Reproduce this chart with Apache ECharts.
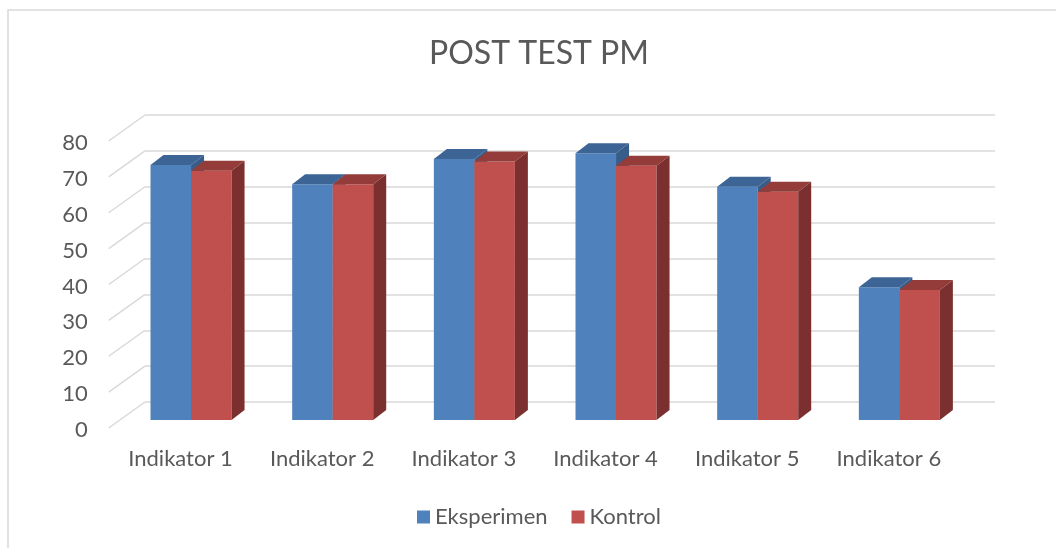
<!DOCTYPE html>
<html>
<head>
<meta charset="utf-8">
<title>POST TEST PM</title>
<script src="https://cdn.jsdelivr.net/npm/echarts@6/dist/echarts.min.js"></script>
<style>
html, body { margin: 0; padding: 0; background: #fff; }
#main { width: 1056px; height: 548px; }
</style>
</head>
<body>
<div id="main"></div>
<script>
var categories = ['Indikator 1', 'Indikator 2', 'Indikator 3', 'Indikator 4', 'Indikator 5', 'Indikator 6'];
var eksperimen = [71, 65.7, 72.7, 74.3, 65, 37];
var kontrol = [69.4, 65.7, 72, 70.8, 63.6, 36.2];
var yTicks = [0, 10, 20, 30, 40, 50, 60, 70, 80];

var textColor = '#595959';
var gridColor = '#D9D9D9';
var font = 'Lato';
var labelSize = 22;

// depth of the 3d bars
var DX = 13, DY = 10;

function bar3d(idx, front, top, side) {
  return function (params, api) {
    var p = api.coord([api.value(0), api.value(1)]);
    var base = api.coord([api.value(0), 0]);
    var band = api.size([1, 0])[0];
    var w = band * 0.286;
    var l = p[0] - w + idx * w;
    var y = p[1], b = base[1];
    return {
      type: 'group',
      children: [
        { type: 'rect', shape: { x: l, y: y, width: w, height: b - y }, style: { fill: front } },
        { type: 'polygon', shape: { points: [[l, y], [l + w, y], [l + w + DX, y - DY], [l + DX, y - DY]] }, style: { fill: top } },
        { type: 'polygon', shape: { points: [[l + w, y], [l + w + DX, y - DY], [l + w + DX, b - DY], [l + w, b]] }, style: { fill: side } }
      ]
    };
  };
}

var chart = echarts.init(document.getElementById('main'));
chart.setOption({
  animation: false,
  textStyle: { fontFamily: font },
  title: {
    text: 'POST TEST PM',
    left: 429,
    top: 38,
    padding: 0,
    textStyle: { color: textColor, fontSize: 32, fontWeight: 'normal', fontFamily: font }
  },
  legend: {
    left: 417,
    top: 506,
    icon: 'rect',
    itemWidth: 13,
    itemHeight: 13,
    itemGap: 24,
    padding: 0,
    textStyle: { color: textColor, fontSize: labelSize, fontFamily: font },
    data: [
      { name: 'Eksperimen', itemStyle: { color: '#4F81BD' } },
      { name: 'Kontrol', itemStyle: { color: '#C0504D' } }
    ]
  },
  graphic: [{
    type: 'rect',
    shape: { x: 8, y: 10, width: 1200, height: 700 },
    style: { fill: 'none', stroke: gridColor, lineWidth: 1.5 },
    silent: true
  }],
  grid: [
    // front plane of bars
    { left: 120.2, width: 850, top: 132.8, height: 287.2 },
    // back wall
    { left: 145, width: 850, top: 115, height: 287 },
    // label plane
    { left: 109.7, width: 850, top: 143, height: 287 }
  ],
  xAxis: [
    { gridIndex: 0, type: 'category', data: categories, show: false },
    { gridIndex: 1, type: 'category', data: categories, show: false },
    {
      gridIndex: 2, type: 'category', data: categories,
      axisLine: { show: false }, axisTick: { show: false },
      axisLabel: { color: textColor, fontSize: labelSize, margin: 18, fontFamily: font }
    }
  ],
  yAxis: [
    { gridIndex: 0, type: 'value', min: 0, max: 80, interval: 10, show: false },
    {
      gridIndex: 1, type: 'value', min: 0, max: 80, interval: 10,
      axisLine: { show: false }, axisTick: { show: false }, axisLabel: { show: false },
      splitLine: { lineStyle: { color: gridColor, width: 1.5 } }
    },
    {
      gridIndex: 2, type: 'value', min: 0, max: 80, interval: 10,
      axisLine: { show: false }, axisTick: { show: false }, splitLine: { show: false },
      axisLabel: { color: textColor, fontSize: labelSize, margin: 22, fontFamily: font }
    }
  ],
  series: [
    {
      // side wall lines
      type: 'custom',
      xAxisIndex: 1,
      yAxisIndex: 1,
      silent: true,
      data: yTicks.map(function (v) { return [0, v]; }),
      renderItem: function (params, api) {
        var y = api.coord([0, api.value(1)])[1];
        var x0 = params.coordSys.x;
        return {
          type: 'line',
          shape: { x1: x0, y1: y, x2: x0 - 36.3, y2: y + 26 },
          style: { stroke: gridColor, lineWidth: 1.5 }
        };
      }
    },
    {
      name: 'Eksperimen',
      type: 'custom',
      xAxisIndex: 0,
      yAxisIndex: 0,
      itemStyle: { color: '#4F81BD' },
      data: eksperimen.map(function (v, i) { return [i, v]; }),
      renderItem: bar3d(0, '#4F81BD', '#3C6494', '#385D8A')
    },
    {
      name: 'Kontrol',
      type: 'custom',
      xAxisIndex: 0,
      yAxisIndex: 0,
      itemStyle: { color: '#C0504D' },
      data: kontrol.map(function (v, i) { return [i, v]; }),
      renderItem: bar3d(1, '#C0504D', '#943C3A', '#7B302F')
    }
  ]
});
</script>
</body>
</html>
